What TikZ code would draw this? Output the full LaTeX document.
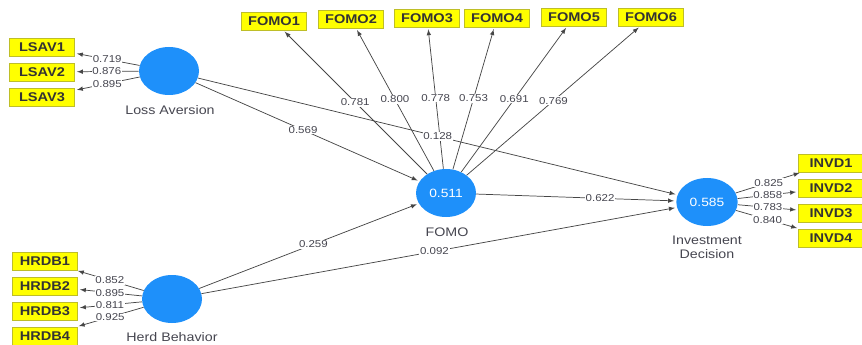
\documentclass[tikz,border=0pt]{standalone}
\usepackage{fontspec}
\setmainfont{Liberation Sans}[FakeStretch=1.15]
\usepackage{tikz}
\usepackage{xcolor}
\usetikzlibrary{shapes.geometric}

\definecolor{lvblue}{RGB}{30,144,250}
\definecolor{boxyel}{RGB}{255,255,0}
\definecolor{boxline}{RGB}{190,190,40}
\definecolor{pathgray}{RGB}{70,70,70}
\definecolor{txtgray}{RGB}{70,70,80}

\begin{document}
\begin{tikzpicture}[x=0.75pt,y=-0.75pt,>=latex,
    lv/.style={ellipse,fill=lvblue,draw=none,minimum width=45pt,minimum height=36pt,text=white,font=\fontsize{9}{10}\selectfont},
    ind/.style={rectangle,fill=boxyel,draw=boxline,line width=0.4pt,minimum width=49pt,minimum height=13.5pt,inner sep=0pt,font=\fontsize{9.5}{10}\selectfont\bfseries,text=black!80},
    ld/.style={fill=white,inner sep=0.6pt,text=txtgray,font=\fontsize{7.5}{8}\selectfont},
    lbl/.style={text=txtgray,font=\fontsize{9.3}{10.5}\selectfont,align=center},
    pth/.style={->,draw=pathgray,line width=0.55pt,shorten >=1.5pt}]
            \useasboundingbox (0,0) rectangle (862,345);

            % latent variables
            \node (la) at (169,71) [lv] {};
            \node (fomo) at (446,193) [lv] {0.511};
            \node (id) at (707,202) [lv] {0.585};
            \node (hb) at (172,299) [lv] {};

            \node (lalbl) at (170,110) [lbl] {Loss Aversion};
            \node (fomolbl) at (447,232) [lbl] {FOMO};
            \node (idlbl) at (707,247) [lbl,inner sep=0pt] {Investment\\Decision};
            \node (hblbl) at (172,337) [lbl] {Herd Behavior};

            % indicators
            \node (lsav1) at (42,47) [ind] {LSAV1};
            \node (lsav2) at (42,72) [ind] {LSAV2};
            \node (lsav3) at (42,97) [ind] {LSAV3};

            \node (fomo1) at (274,21) [ind] {FOMO1};
            \node (fomo2) at (351,19) [ind] {FOMO2};
            \node (fomo3) at (427,18) [ind] {FOMO3};
            \node (fomo4) at (497,18) [ind] {FOMO4};
            \node (fomo5) at (574,17) [ind] {FOMO5};
            \node (fomo6) at (651,17) [ind] {FOMO6};

            \node (invd1) at (831,163) [ind] {INVD1};
            \node (invd2) at (831,188) [ind] {INVD2};
            \node (invd3) at (831,213) [ind] {INVD3};
            \node (invd4) at (831,238) [ind] {INVD4};

            \node (hrdb1) at (45,261) [ind] {HRDB1};
            \node (hrdb2) at (45,286) [ind] {HRDB2};
            \node (hrdb3) at (45,311) [ind] {HRDB3};
            \node (hrdb4) at (45,336) [ind] {HRDB4};

            % outer loadings
            \draw[pth] (la) -- node[ld] {0.719} (lsav1);
            \draw[pth] (la) -- node[ld] {0.876} (lsav2);
            \draw[pth] (la) -- node[ld] {0.895} (lsav3);

            \draw[pth] (fomo) -- node[ld] {0.781} (fomo1);
            \draw[pth] (fomo) -- node[ld] {0.800} (fomo2);
            \draw[pth] (fomo) -- node[ld] {0.778} (fomo3);
            \draw[pth] (fomo) -- node[ld] {0.753} (fomo4);
            \draw[pth] (fomo) -- node[ld] {0.691} (fomo5);
            \draw[pth] (fomo) -- node[ld] {0.769} (fomo6);

            \draw[pth] (id) -- node[ld,pos=0.5] {0.825} (invd1);
            \draw[pth] (id) -- node[ld,pos=0.5] {0.858} (invd2);
            \draw[pth] (id) -- node[ld,pos=0.5] {0.783} (invd3);
            \draw[pth] (id) -- node[ld,pos=0.5] {0.840} (invd4);

            \draw[pth] (hb) -- node[ld] {0.852} (hrdb1);
            \draw[pth] (hb) -- node[ld] {0.895} (hrdb2);
            \draw[pth] (hb) -- node[ld] {0.811} (hrdb3);
            \draw[pth] (hb) -- node[ld] {0.925} (hrdb4);

            % inner paths
            \draw[pth] (la) -- node[ld,pos=0.48] {0.569} (fomo);
            \draw[pth] (la) -- node[ld,pos=0.5] {0.128} (id);
            \draw[pth] (fomo) -- node[ld,pos=0.62] {0.622} (id);
            \draw[pth] (hb) -- node[ld,pos=0.52] {0.259} (fomo);
            \draw[pth] (hb) -- node[ld,pos=0.49] {0.092} (id);

        \end{tikzpicture}
\end{document}
